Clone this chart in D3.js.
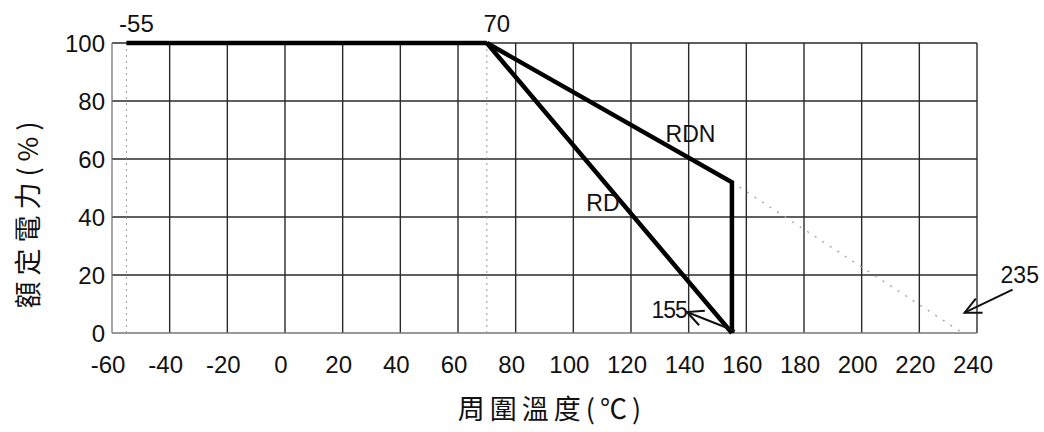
<!DOCTYPE html>
<html>
<head>
<meta charset="utf-8">
<script src="https://cdn.jsdelivr.net/npm/d3@7"></script>
<style>
	body { margin: 0; background: #fff; }
	text { font-family: 'Liberation Sans', Arial, sans-serif; fill: #111; }
	.cjk { font-family: 'Noto Sans CJK TC', sans-serif; }
</style>
</head>
<body>
<div class="content"></div>
<script>
const w = 1044;
const h = 432;

// data
const xTicks = [-60, -40, -20, 0, 20, 40, 60, 80, 100, 120, 140, 160, 180, 200, 220, 240];
const yTicks = [0, 20, 40, 60, 80, 100];
const topMarks = [-55, 70];
const flat = [[-55, 100], [70, 100]];
const rd = [[70, 100], [155, 0]];
const rdn = [[70, 100], [155, 52], [155, 0]];
const rdnExt = [[155, 52], [235, 0]];

const x = d3.scaleLinear().domain([-60, 240]).range([112, 977]);
const y = d3.scaleLinear().domain([0, 100]).range([333, 43]);

const svg = d3.select('.content').append('svg')
	.attr('width', w)
	.attr('height', h);

// grid
svg.append('g')
	.selectAll('line')
	.data(xTicks.slice(1))
	.enter()
	.append('line')
	.attr('x1', d => x(d)).attr('x2', d => x(d))
	.attr('y1', y(100)).attr('y2', y(0))
	.attr('stroke', '#2a2a2a')
	.attr('stroke-width', 1.4);

svg.append('g')
	.selectAll('line')
	.data(yTicks.slice(1))
	.enter()
	.append('line')
	.attr('x1', x(-60)).attr('x2', x(240))
	.attr('y1', d => y(d)).attr('y2', d => y(d))
	.attr('stroke', '#2a2a2a')
	.attr('stroke-width', 1.4);

// axes (left and bottom, lighter)
svg.append('line')
	.attr('x1', x(-60)).attr('x2', x(-60))
	.attr('y1', y(100)).attr('y2', y(0))
	.attr('stroke', '#777').attr('stroke-width', 1.3);
svg.append('line')
	.attr('x1', x(-60)).attr('x2', x(240))
	.attr('y1', y(0)).attr('y2', y(0))
	.attr('stroke', '#777').attr('stroke-width', 1.5);

// dotted guides
svg.append('g')
	.selectAll('line')
	.data(topMarks)
	.enter()
	.append('line')
	.attr('x1', d => x(d)).attr('x2', d => x(d))
	.attr('y1', y(100)).attr('y2', y(0))
	.attr('stroke', '#999')
	.attr('stroke-width', 1)
	.attr('stroke-dasharray', '2,4');

const line = d3.line().x(d => x(d[0])).y(d => y(d[1]));

svg.append('path')
	.attr('d', line(rdnExt))
	.attr('fill', 'none')
	.attr('stroke', '#aaa')
	.attr('stroke-width', 1.5)
	.attr('stroke-dasharray', '2,7');

[flat, rd, rdn].forEach(s => {
	svg.append('path')
		.attr('d', line(s))
		.attr('fill', 'none')
		.attr('stroke', '#000')
		.attr('stroke-width', 4.5)
		.attr('stroke-linejoin', 'miter');
});

// tick labels
svg.append('g')
	.selectAll('text')
	.data(xTicks)
	.enter()
	.append('text')
	.attr('x', d => x(d) - 4)
	.attr('y', 373)
	.attr('text-anchor', 'middle')
	.attr('font-size', 24)
	.text(d => d);

svg.append('g')
	.selectAll('text')
	.data(yTicks)
	.enter()
	.append('text')
	.attr('x', 105)
	.attr('y', d => y(d) + 9)
	.attr('text-anchor', 'end')
	.attr('font-size', 24)
	.text(d => d);

svg.append('g')
	.selectAll('text')
	.data(topMarks)
	.enter()
	.append('text')
	.attr('x', d => x(d) + 10)
	.attr('y', 32)
	.attr('text-anchor', 'middle')
	.attr('font-size', 24)
	.text(d => d);

// series labels
svg.append('text')
	.attr('x', x(132)).attr('y', y(66))
	.attr('font-size', 23)
	.text('RDN');
svg.append('text')
	.attr('x', x(104.5)).attr('y', y(42))
	.attr('font-size', 23)
	.text('RD');

// annotation arrows
function arrow(x1, y1, x2, y2) {
	svg.append('line')
		.attr('x1', x1).attr('y1', y1).attr('x2', x2).attr('y2', y2)
		.attr('stroke', '#111').attr('stroke-width', 2);
	const a = Math.atan2(y1 - y2, x1 - x2);
	const len = 18, sp = 0.45;
	svg.append('path')
		.attr('d', `M${x2 + len * Math.cos(a - sp)},${y2 + len * Math.sin(a - sp)}L${x2},${y2}L${x2 + len * Math.cos(a + sp)},${y2 + len * Math.sin(a + sp)}`)
		.attr('fill', 'none')
		.attr('stroke', '#111')
		.attr('stroke-width', 2);
}

arrow(x(155) + 3, y(0) - 2, x(155) - 45, y(0) - 21);
svg.append('text')
	.attr('x', x(155) - 45).attr('y', y(0) - 15)
	.attr('text-anchor', 'end')
	.attr('font-size', 23)
	.attr('letter-spacing', -1)
	.text('155');

arrow(x(235) + 50, y(7) - 23, x(235) + 2, y(7));
svg.append('text')
	.attr('x', x(235) + 38).attr('y', 283)
	.attr('font-size', 23)
	.text('235');

// axis titles
svg.append('text')
	.attr('class', 'cjk')
	.attr('transform', 'translate(38,212) rotate(-90)')
	.attr('text-anchor', 'middle')
	.attr('font-size', 27)
	.attr('letter-spacing', 6)
	.text('額定電力(%)');

svg.append('text')
	.attr('class', 'cjk')
	.attr('x', 552).attr('y', 419)
	.attr('text-anchor', 'middle')
	.attr('font-size', 27)
	.attr('letter-spacing', 5)
	.text('周圍溫度(℃)');
</script>
</body>
</html>
